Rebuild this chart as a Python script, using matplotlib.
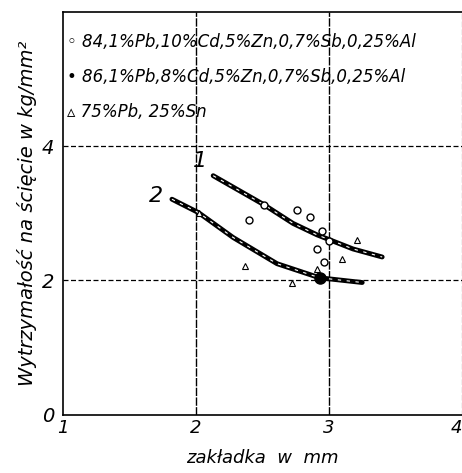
import matplotlib.pyplot as plt

# Krzywe 1 i 2
x_krzywa1 = [2.13, 2.51, 2.73, 2.91, 3.18, 3.40]
y_krzywa1 = [3.56, 3.13, 2.85, 2.68, 2.47, 2.35]
x_krzywa2 = [1.82, 2.02, 2.28, 2.61, 2.93, 3.25]
y_krzywa2 = [3.21, 3.01, 2.64, 2.25, 2.04, 1.97]

# Punkty pomiarowe
x_kolka = [2.40, 2.51, 2.76, 2.86, 2.95, 2.91, 2.96, 3.00]
y_kolka = [2.90, 3.13, 3.05, 2.95, 2.73, 2.47, 2.27, 2.59]
x_pelne = [2.93]
y_pelne = [2.04]
x_trojkaty = [2.02, 2.37, 2.72, 2.91, 3.10, 3.21]
y_trojkaty = [3.00, 2.21, 1.97, 2.17, 2.32, 2.60]

legenda = ["84,1%Pb,10%Cd,5%Zn,0,7%Sb,0,25%Al",
           "86,1%Pb,8%Cd,5%Zn,0,7%Sb,0,25%Al",
           "75%Pb, 25%Sn"]
znaczniki = ["\u25e6", "\u2022", "\u25b5"]

plt.rcParams['font.family'] = ['DejaVu Sans']
plt.rcParams['font.style'] = 'italic'

fig = plt.figure(figsize=(4.62, 4.73), dpi=100)
ax = fig.add_axes([0.136, 0.123, 0.864, 0.852])

ax.set_xlim(1, 4)
ax.set_ylim(0, 6)

for gx in [2, 3]:
    ax.axvline(gx, color='black', lw=1.0, ls=(0, (6, 1)), zorder=1)
for gy in [2, 4]:
    ax.axhline(gy, color='black', lw=0.9, ls=(0, (4, 2)), zorder=1)

ax.plot(x_krzywa1, y_krzywa1, color='black', lw=3.5, solid_capstyle='round', zorder=3)
ax.plot(x_krzywa2, y_krzywa2, color='black', lw=3.5, solid_capstyle='round', zorder=3)
ax.plot(x_krzywa1, y_krzywa1, color='white', lw=0.8, ls=(0, (3, 5)), zorder=4)
ax.plot(x_krzywa2, y_krzywa2, color='white', lw=0.8, ls=(0, (3, 5)), zorder=4)

ax.plot(x_kolka, y_kolka, 'o', mfc='white', mec='black', ms=5, mew=1, zorder=5)
ax.plot(x_pelne, y_pelne, 'o', color='black', ms=8, zorder=5)
ax.plot(x_trojkaty, y_trojkaty, '^', mfc='white', mec='black', ms=4, mew=0.8, zorder=5)

ax.text(2.08, 3.63, "1", fontsize=16, ha='right', va='bottom')
ax.text(1.75, 3.26, "2", fontsize=16, ha='right', va='center')

for i, (z, t) in enumerate(zip(znaczniki, legenda)):
    ax.text(1.03, 5.55 - i * 0.52, z + " " + t, fontsize=12, ha='left', va='center')

for s in ['left', 'top', 'bottom']:
    ax.spines[s].set_linewidth(1.2)
ax.spines['right'].set_linestyle((0, (4, 3)))
ax.spines['right'].set_linewidth(0.8)

ax.set_xticks([1, 2, 3, 4])
ax.set_xticklabels(["1", "2", "3", "4"], fontsize=13)
ax.get_xticklabels()[-1].set_ha('right')
ax.set_yticks([0, 2, 4])
ax.set_yticklabels(["0", "2", "4"], fontsize=14)
ax.tick_params(axis='x', length=0, pad=3)
ax.tick_params(axis='y', length=0, pad=6)

ax.set_xlabel("zakładka  w  mm", fontsize=13, va='center')
ax.xaxis.set_label_coords(0.5, -0.107)
ax.set_ylabel("Wytrzymałość na ścięcie w kg/mm²", fontsize=14, labelpad=4)

fig.savefig("out.png", dpi=100)
